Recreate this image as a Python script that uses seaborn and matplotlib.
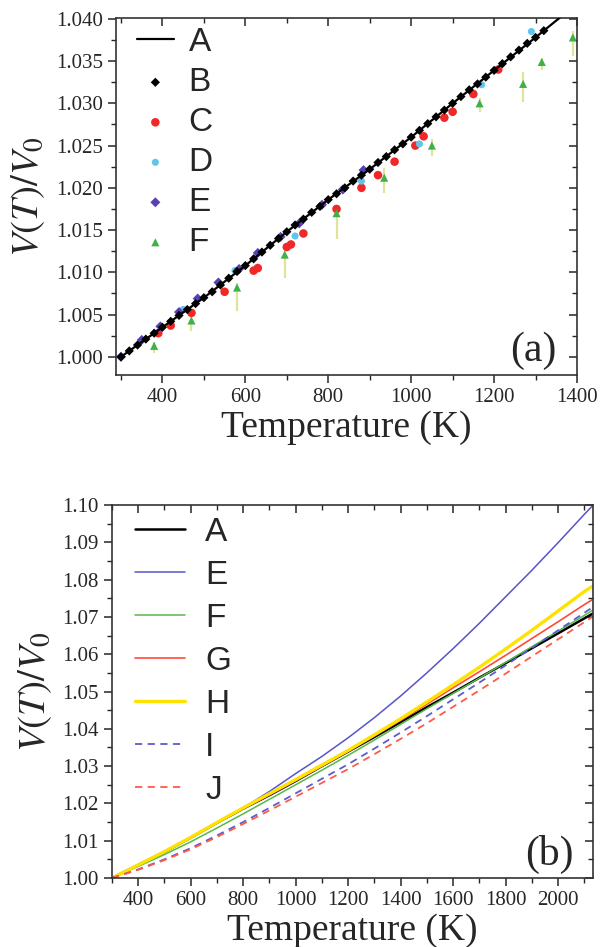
import numpy as np
import pandas as pd
import matplotlib
matplotlib.use("Agg")
import matplotlib.pyplot as plt
import seaborn as sns
from matplotlib.ticker import MultipleLocator, FormatStrFormatter

# ---------------- data: panel (a) ----------------
T_A = [300, 400, 500, 600, 700, 800, 900, 1000, 1100, 1200, 1300, 1400]
V_A = [1.0000, 1.0035, 1.0070, 1.0108, 1.0148, 1.0186, 1.0222, 1.0260, 1.0300, 1.0339, 1.0378, 1.0418]

T_B = [300, 320, 340, 360, 380, 400, 420, 440, 460, 480, 500, 520, 540, 560, 580, 600,
       620, 640, 660, 680, 700, 720, 740, 760, 780, 800, 820, 840, 860, 880, 900, 920,
       940, 960, 980, 1000, 1020, 1040, 1060, 1080, 1100, 1120, 1140, 1160, 1180, 1200,
       1220, 1240, 1260, 1280, 1300, 1320]
V_B = [1.0000, 1.0007, 1.0014, 1.0021, 1.0028, 1.0035, 1.0042, 1.0049, 1.0056, 1.0063,
       1.0070, 1.0077, 1.0085, 1.0093, 1.0101, 1.0108, 1.0116, 1.0124, 1.0132, 1.0140,
       1.0148, 1.0156, 1.0163, 1.0171, 1.0178, 1.0186, 1.0193, 1.0200, 1.0208, 1.0215,
       1.0222, 1.0230, 1.0237, 1.0245, 1.0252, 1.0260, 1.0268, 1.0276, 1.0284, 1.0292,
       1.0300, 1.0308, 1.0316, 1.0323, 1.0331, 1.0339, 1.0347, 1.0355, 1.0363, 1.0371,
       1.0378, 1.0386]

T_C = [390, 420, 470, 550, 620, 630, 700, 710, 740, 820, 880, 920, 960, 1010, 1030, 1080, 1100, 1150, 1210]
V_C = [1.0028, 1.0037, 1.0052, 1.0077, 1.0102, 1.0105, 1.0130, 1.0133, 1.0146, 1.0175,
       1.0200, 1.0215, 1.0231, 1.0250, 1.0261, 1.0283, 1.0290, 1.0311, 1.0340]

T_D = [450, 575, 720, 880, 1020, 1170, 1290]
V_D = [1.0056, 1.0102, 1.0143, 1.0208, 1.0252, 1.0322, 1.0385]

T_E = [300, 350, 395, 440, 485, 535, 585, 630, 685, 730, 785, 835, 885]
V_E = [1.0000, 1.0020, 1.0036, 1.0053, 1.0069, 1.0088, 1.0104, 1.0123, 1.0142, 1.0158, 1.0180, 1.0198, 1.0221]

T_F = [380, 470, 580, 695, 820, 935, 1050, 1165, 1270, 1315, 1390]
V_F = [1.0013, 1.0043, 1.0082, 1.0121, 1.0170, 1.0212, 1.0250, 1.0300, 1.0323, 1.0349, 1.0378]
F_err_lo = [0.0008, 0.0012, 0.0028, 0.0028, 0.0030, 0.0018, 0.0012, 0.0010, 0.0022, 0.0010, 0.0022]
F_err_hi = [0.0004, 0.0005, 0.0005, 0.0005, 0.0005, 0.0012, 0.0008, 0.0006, 0.0014, 0.0005, 0.0008]

# ---------------- data: panel (b) ----------------
T_b = [300, 400, 500, 600, 700, 800, 900, 1000, 1100, 1200, 1300, 1400, 1500, 1600,
       1700, 1800, 1900, 2000, 2100, 2130]
Vb_A = [1.0000, 1.0035, 1.0070, 1.0108, 1.0148, 1.0186, 1.0222, 1.0260, 1.0300, 1.0339,
        1.0378, 1.0418, 1.0458, 1.0497, 1.0537, 1.0576, 1.0616, 1.0656, 1.0696, 1.0708]
Vb_E = [1.0000, 1.0035, 1.0070, 1.0108, 1.0147, 1.0188, 1.0232, 1.0280, 1.0326, 1.0376,
        1.0430, 1.0488, 1.0550, 1.0615, 1.0683, 1.0754, 1.0825, 1.0899, 1.0975, 1.0997]
Vb_F = [1.0000, 1.0031, 1.0063, 1.0097, 1.0134, 1.0172, 1.0211, 1.0250, 1.0289, 1.0329,
        1.0370, 1.0412, 1.0454, 1.0495, 1.0536, 1.0578, 1.0620, 1.0662, 1.0704, 1.0717]
Vb_G = [1.0000, 1.0035, 1.0070, 1.0108, 1.0148, 1.0186, 1.0223, 1.0261, 1.0300, 1.0340,
        1.0381, 1.0423, 1.0466, 1.0510, 1.0553, 1.0597, 1.0642, 1.0687, 1.0733, 1.0746]
Vb_H = [1.0000, 1.0035, 1.0071, 1.0109, 1.0149, 1.0188, 1.0226, 1.0264, 1.0303, 1.0342,
        1.0384, 1.0427, 1.0472, 1.0518, 1.0565, 1.0614, 1.0664, 1.0716, 1.0768, 1.0782]
Vb_I = [1.0000, 1.0023, 1.0050, 1.0080, 1.0114, 1.0150, 1.0188, 1.0227, 1.0266, 1.0305,
        1.0347, 1.0390, 1.0434, 1.0479, 1.0524, 1.0570, 1.0617, 1.0664, 1.0711, 1.0725]
Vb_J = [1.0000, 1.0022, 1.0048, 1.0077, 1.0110, 1.0145, 1.0181, 1.0218, 1.0255, 1.0292,
        1.0332, 1.0373, 1.0415, 1.0459, 1.0503, 1.0548, 1.0594, 1.0640, 1.0686, 1.0700]

# ---------------- style ----------------
sns.set_style("ticks")
plt.rcParams["font.family"] = ["Liberation Serif", "DejaVu Serif"]
plt.rcParams["mathtext.fontset"] = "stix"
plt.rcParams["axes.linewidth"] = 1.2

fig = plt.figure(figsize=(6.0, 9.47), dpi=100)
ax1 = fig.add_axes([116/600, 1-375/947, 461/600, 357/947])
ax2 = fig.add_axes([112/600, 1-878/947, 481/600, 373/947])

# ---------------- panel (a) ----------------
sns.lineplot(x=T_A, y=V_A, ax=ax1, color="black", lw=1.6, label="A", zorder=3)
ax1.errorbar(T_F, V_F, yerr=[F_err_lo, F_err_hi], fmt="none", ecolor="#dfe49a",
             elinewidth=1.6, zorder=1)
sns.scatterplot(x=T_C, y=V_C, ax=ax1, color="#f02828", marker="o", s=38,
                edgecolor="none", zorder=2, label="C")
sns.scatterplot(x=T_D, y=V_D, ax=ax1, color="#5ec6ea", marker="o", s=26,
                edgecolor="none", zorder=2, label="D")
sns.scatterplot(x=T_E, y=V_E, ax=ax1, color="#5a40b4", marker="D", s=26,
                edgecolor="none", zorder=2, label="E")
sns.scatterplot(x=T_F, y=V_F, ax=ax1, color="#3fb04a", marker="^", s=34,
                edgecolor="none", zorder=2, label="F")
sns.scatterplot(x=T_B, y=V_B, ax=ax1, color="black", marker="D", s=22,
                edgecolor="none", zorder=4, label="B")

h, l = ax1.get_legend_handles_labels()
order = ["A", "B", "C", "D", "E", "F"]
hd = dict(zip(l, h))
ax1.legend([hd[k] for k in order], order, loc="upper left",
           bbox_to_anchor=(-0.005, 1.04), frameon=False,
           prop={"family": "Liberation Sans", "size": 24},
           handlelength=1.1, handletextpad=0.45, labelspacing=0.27,
           borderaxespad=0.3, markerscale=1.0)

ax1.set_xlim(288, 1400)
ax1.set_ylim(0.99785, 1.0401)
ax1.xaxis.set_major_locator(MultipleLocator(200))
ax1.xaxis.set_minor_locator(MultipleLocator(100))
ax1.yaxis.set_major_locator(MultipleLocator(0.005))
ax1.yaxis.set_minor_locator(MultipleLocator(0.0025))
ax1.yaxis.set_major_formatter(FormatStrFormatter("%.3f"))
ax1.set_xlabel("Temperature (K)", fontsize=27, labelpad=2)
ax1.set_ylabel(r"$V(T)/V_{\mathrm{0}}$", fontsize=28, labelpad=6)
ax1.text(0.955, 0.015, "(a)", transform=ax1.transAxes, ha="right", va="bottom", fontsize=30)

# ---------------- panel (b) ----------------
series_b = [("A", Vb_A, "black", "-", 1.8),
            ("E", Vb_E, "#5656c8", "-", 1.1),
            ("F", Vb_F, "#58b848", "-", 1.1),
            ("G", Vb_G, "#ff4a3a", "-", 1.2),
            ("H", Vb_H, "#ffe200", "-", 2.4),
            ("I", Vb_I, "#5c5ccc", (0, (4, 3)), 1.3),
            ("J", Vb_J, "#ff5a48", (0, (4, 3)), 1.3)]
for name, vals, col, ls, lw in series_b:
    sns.lineplot(x=T_b, y=vals, ax=ax2, color=col, linestyle=ls, lw=lw, label=name)
ax2.legend(loc="upper left", bbox_to_anchor=(0.0, 1.03), frameon=False,
           prop={"family": "Liberation Sans", "size": 24},
           handlelength=1.5, handletextpad=0.6, labelspacing=0.36, borderaxespad=0.3)

ax2.set_xlim(300, 2133)
ax2.set_ylim(1.0, 1.1)
ax2.xaxis.set_major_locator(MultipleLocator(200))
ax2.xaxis.set_minor_locator(MultipleLocator(100))
ax2.yaxis.set_major_locator(MultipleLocator(0.01))
ax2.yaxis.set_minor_locator(MultipleLocator(0.005))
ax2.yaxis.set_major_formatter(FormatStrFormatter("%.2f"))
ax2.set_xticks([400, 600, 800, 1000, 1200, 1400, 1600, 1800, 2000])
ax2.set_xlabel("Temperature (K)", fontsize=27, labelpad=2)
ax2.set_ylabel(r"$V(T)/V_{\mathrm{0}}$", fontsize=28, labelpad=6)
ax2.text(0.96, 0.01, "(b)", transform=ax2.transAxes, ha="right", va="bottom", fontsize=30)

for ax in (ax1, ax2):
    ax.tick_params(axis="both", which="major", labelsize=15, length=6, width=1.1, direction="out")
    ax.tick_params(axis="both", which="minor", length=3.5, width=1.0, direction="out")
    ax.tick_params(top=True, right=True, which="both")
    for side in ("top", "bottom", "left", "right"):
        ax.spines[side].set_visible(True)
        ax.spines[side].set_color("#333333")
    for t in ax.xaxis.get_major_ticks() + ax.xaxis.get_minor_ticks():
        t.tick2line.set_marker(matplotlib.lines.TICKDOWN)
    for t in ax.yaxis.get_major_ticks() + ax.yaxis.get_minor_ticks():
        t.tick2line.set_marker(matplotlib.lines.TICKLEFT)

fig.savefig("out.png", dpi=100)
